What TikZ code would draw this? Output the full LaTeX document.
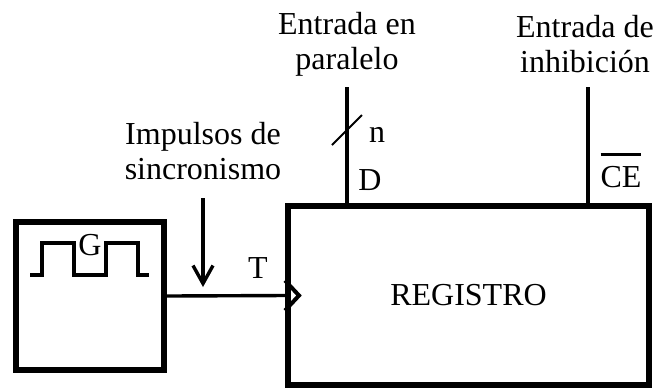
\documentclass[tikz,border=0pt]{standalone}
\usepackage{fontspec}
\setmainfont{Liberation Serif}
\usetikzlibrary{positioning,arrows.meta}

% complemented signal (bar over the name)
\newcommand{\negar}[1]{\vbox{\hrule height 1.5pt \vskip 5pt \hbox{#1}}}

\begin{document}
\begin{tikzpicture}[
    x=0.5pt, y=-0.5pt,
    every node/.style={font=\fontsize{16}{17.5}\selectfont},
    block/.style={draw, line width=3pt, inner sep=0pt}, % thick boxes
    wire/.style={line width=1.7pt},
    thinwire/.style={line width=1pt},
    label/.style={align=center}
]
    \useasboundingbox (0,0) rectangle (659,388);

    % --- Blocks ---
    \node[block, minimum width=74pt, minimum height=74pt] (gen) at (90,296) {};
    \node[block, minimum width=180.5pt, minimum height=89.5pt] (reg) at (468.5,295.5) {REGISTRO};

    % --- Texts ---
    \node[label] (par)  at (347,44)  {Entrada en\\paralelo};
    \node[label] (inh)  at (585,44)  {Entrada de\\inhibición};
    \node[label] (sync) at (203,151) {Impulsos de\\sincronismo};

    \node (glabel)  at (90,245)  {G};
    \node (tlabel)  at (258,268) {T};
    \node (nlabel)  at (377,135) {n};
    \node (dlabel)  at (370,180) {D};
    \node[anchor=base] (celabel) at (621,187) {\negar{CE}};

    % --- Clock signal inside the generator ---
    \draw[wire] (30,275) -- (42,275) -- (42,243) -- (74,243) -- (74,275)
        -- (106,275) -- (106,243) -- (138,243) -- (138,275) -- (149,275);

    % --- Connections ---
    \coordinate (dtop)  at (347,87);
    \coordinate (cetop) at (588,87);
    \coordinate (syncin) at (203,198);
    \coordinate (clkin)  at (203,287);

    \draw[wire] (gen.east) -- (reg.west);
    \draw[wire, -{Straight Barb[length=9pt,width=10pt]}] (syncin) -- (clkin);
    \draw[wire] (dtop) -- (dtop |- reg.north);
    \draw[wire] (cetop) -- (cetop |- reg.north);

    % bus width mark
    \draw[thinwire] (332,145) -- (362,115);

    % clock input triangle
    \draw[line width=2pt] ([yshift=7.5pt]reg.west) -- ++(14,15) -- ++(-14,15);

\end{tikzpicture}
\end{document}
